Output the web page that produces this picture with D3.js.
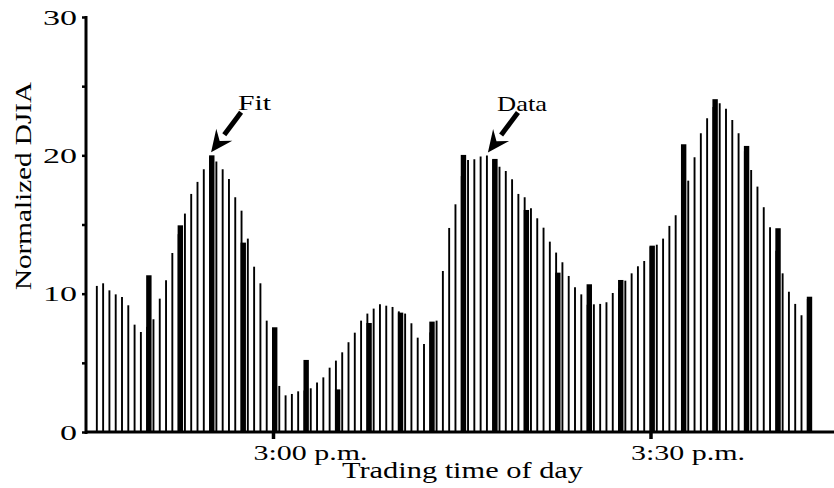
<!DOCTYPE html>
<html>
<head>
<meta charset="utf-8">
<script src="https://cdn.jsdelivr.net/npm/d3@7/dist/d3.min.js"></script>
<style>
body{margin:0;background:#fff;}
svg text{font-family:"Liberation Serif","Times New Roman",serif;fill:#000;}
</style>
</head>
<body>
<svg id="chart"></svg>
<script>
// minutes relative to 3:00 p.m.; data every 30 s starting 2:46 p.m.
var dataStart = -14
var dataStep = 0.5
var dataValues = [
 10.56,10.75,10.24,9.95,9.76,9.16,7.76,7.23,7.6,8.15,
 9.64,10.97,12.94,14.3,15.79,17.21,18.08,19.0,19.91,19.55,
 19.0,18.29,16.97,16.0,13.98,11.95,10.75,8.05,5.5,3.33,
 2.65,2.75,2.94,3.0,3.16,3.57,3.95,4.65,5.16,5.76,
 6.49,7.18,8.05,8.56,8.92,9.23,9.13,9.04,8.72,8.56,
 7.86,6.82,6.36,7.2,8.05,11.64,14.75,16.46,18.5,19.67,
 19.72,19.91,19.98,19.7,19.18,18.87,18.27,17.21,16.97,16.17,
 15.45,14.77,13.76,12.97,12.27,11.28,10.46,9.95,9.2,9.23,
 9.26,9.38,10.05,10.39,10.94,11.47,11.98,12.36,13.4,13.54,
 13.98,14.9,15.67,16.97,18.17,19.86,21.6,22.68,23.5,23.77,
 23.36,22.56,21.6,20.3,18.94,17.74,16.25,14.8,13.1,11.47,
 10.14,9.26,8.44,9.62
]
// fit every 2.5 min starting 2:50 p.m.
var fitStart = -10
var fitStep = 2.5
var fitValues = [11.33,14.94,20.0,13.69,7.57,5.21,3.08,7.88,8.63,7.98,
 20.03,19.74,16.05,11.52,10.68,10.99,13.47,20.8,24.06,20.68,14.73,9.78]

var yTicks = [0,5,10,15,20,25,30]
var yLabels = {0:"0",10:"10",20:"20",30:"30"}
var xTicks = [0,30]
var xLabels = ["3:00 p.m.","3:30 p.m."]

var screen = {width:834,height:488}
var margins = {left:86,top:17,bottom:56}

var svg = d3.select("#chart")
    .attr("width",screen.width)
    .attr("height",screen.height)

var xScale = d3.scaleLinear()
    .domain([0,30])
    .range([273,650.5])

var yScale = d3.scaleLinear()
    .domain([0,30])
    .range([screen.height-margins.bottom, margins.top])

var data = dataValues.map(function(v,i){return {t:dataStart+i*dataStep, v:v}})
var fit = fitValues.map(function(v,i){return {t:fitStart+i*fitStep, v:v}})

var drawBars = function()
{
    svg.append("g")
        .selectAll("rect")
        .data(fit)
        .enter()
        .append("rect")
        .attr("x",function(d){return xScale(d.t)-1})
        .attr("width",5.4)
        .attr("y",function(d){return yScale(d.v)})
        .attr("height",function(d){return yScale(0)-yScale(d.v)})
        .attr("fill","#000")

    svg.append("g")
        .selectAll("line")
        .data(data)
        .enter()
        .append("line")
        .attr("x1",function(d){return xScale(d.t)})
        .attr("x2",function(d){return xScale(d.t)})
        .attr("y1",yScale(0))
        .attr("y2",function(d){return yScale(d.v)})
        .attr("stroke","#000")
        .attr("stroke-width",1.9)
}

var drawAxes = function()
{
    var yAxis = d3.axisLeft(yScale)
        .tickValues(yTicks)
        .tickSize(4)
        .tickPadding(5)
        .tickFormat(function(d){return yLabels[d] || ""})

    var gy = svg.append("g")
        .attr("transform","translate("+margins.left+",0)")
        .call(yAxis)
    gy.select(".domain").attr("stroke-width",3).attr("d","M0,"+(yScale(30)-1)+"V"+(yScale(0)+2))
    gy.selectAll(".tick line").attr("stroke-width",2.5)
    gy.selectAll(".tick text")
        .style("font-size","22px")
        .attr("font-family",null)
        .each(function(d){
            var w = d>=10 ? 34 : (d==0 ? 17 : 0)
            if(w) d3.select(this).attr("textLength",w).attr("lengthAdjust","spacingAndGlyphs")
        })

    var xAxis = d3.axisBottom(xScale)
        .tickValues(xTicks)
        .tickSize(7)
        .tickSizeOuter(0)
        .tickFormat(function(d,i){return xLabels[i]})

    var gx = svg.append("g")
        .attr("transform","translate(0,"+yScale(0)+")")
        .call(xAxis)
    gx.select(".domain").attr("stroke-width",3).attr("d","M"+(margins.left-1)+",0H"+screen.width)
    gx.selectAll(".tick line").attr("stroke-width",3.5)
    gx.selectAll(".tick text")
        .attr("font-family",null)
        .style("font-size","22px")
        .attr("text-anchor","start")
        .attr("x",-20)
        .attr("y",12)
        .attr("textLength",114)
        .attr("lengthAdjust","spacingAndGlyphs")
}

var drawLabels = function()
{
    svg.append("text")
        .text("Trading time of day")
        .attr("x",342)
        .attr("y",478)
        .attr("textLength",241)
        .attr("lengthAdjust","spacingAndGlyphs")
        .style("font-size","23px")

    svg.append("g")
        .attr("transform","translate(31,186)")
        .append("text")
        .text("Normalized DJIA")
        .attr("text-anchor","middle")
        .attr("transform","rotate(-90)")
        .attr("textLength",208)
        .attr("lengthAdjust","spacingAndGlyphs")
        .style("font-size","24px")
}

var drawArrow = function(point, label, labelX, labelW)
{
    var tip = [xScale(point.t)+1, yScale(point.v)-3]
    var tail = [tip[0]+30, tip[1]-40]
    var ang = Math.atan2(tip[1]-tail[1], tip[0]-tail[0])
    var len = 22, half = 10
    var base = [tip[0]-len*Math.cos(ang), tip[1]-len*Math.sin(ang)]
    var px = -Math.sin(ang)*half, py = Math.cos(ang)*half

    svg.append("line")
        .attr("x1",tail[0]).attr("y1",tail[1])
        .attr("x2",base[0]).attr("y2",base[1])
        .attr("stroke","#000")
        .attr("stroke-width",5)
    svg.append("path")
        .attr("d","M"+tip[0]+","+tip[1]+"L"+(base[0]+px)+","+(base[1]+py)+
              "L"+(base[0]+0.35*len*Math.cos(ang))+","+(base[1]+0.35*len*Math.sin(ang))+
              "L"+(base[0]-px)+","+(base[1]-py)+"Z")
        .attr("fill","#000")

    svg.append("text")
        .text(label)
        .attr("x",labelX)
        .attr("y",tail[1]-2)
        .attr("textLength",labelW)
        .attr("lengthAdjust","spacingAndGlyphs")
        .style("font-size","22px")
}

drawBars()
drawAxes()
drawLabels()
drawArrow(fit[2],"Fit",238,33)
drawArrow(data[62],"Data",497,50)
</script>
</body>
</html>
